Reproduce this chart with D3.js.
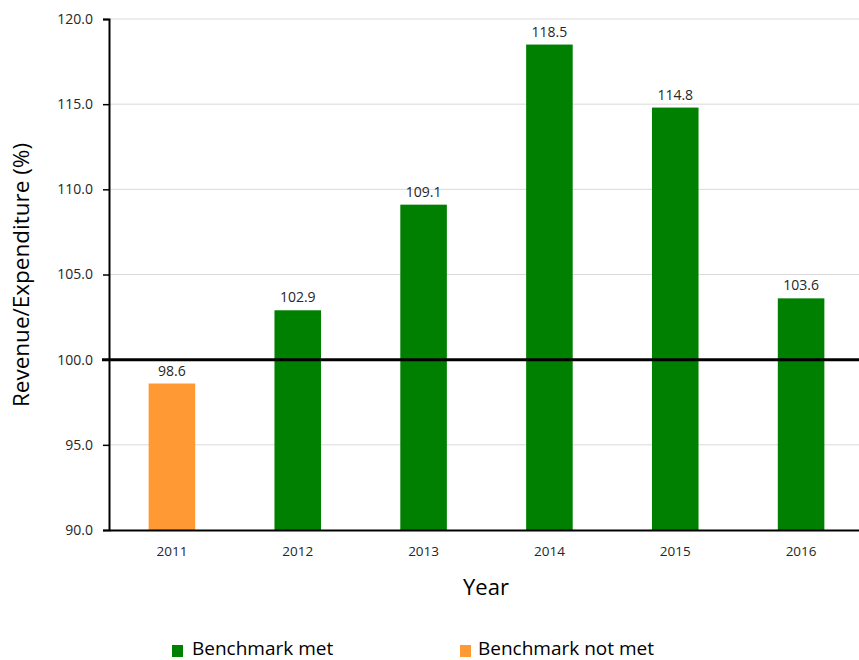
<!DOCTYPE html>
<html><head><meta charset="utf-8">
<script src="https://cdn.jsdelivr.net/npm/d3@7/dist/d3.min.js"></script>
<style>body{margin:0;background:#fff;} text{font-family:"Open Sans","Liberation Sans",sans-serif;}</style>
</head><body>
<svg id="c" width="859" height="660"></svg>
<script>
const years = ["2011","2012","2013","2014","2015","2016"];
const values = [98.6, 102.9, 109.1, 118.5, 114.8, 103.6];
const met = [false, true, true, true, true, true];
const yTicks = [90, 95, 100, 105, 110, 115, 120];
const benchmark = 100;
const legendLabels = ["Benchmark met", "Benchmark not met"];
const colors = {met: "#008000", notMet: "#FF9933"};

const svg = d3.select("#c");
const x = d3.scaleBand().domain(years).range([109, 864]).paddingInner(0.63).paddingOuter(0.315);
const y = d3.scaleLinear().domain([90, 120]).range([530, 19]);

// gridlines
svg.append("g").selectAll("line").data(yTicks.filter(t => t !== 90)).join("line")
  .attr("x1", 109).attr("x2", 859).attr("y1", d => y(d)).attr("y2", d => y(d))
  .attr("stroke", "#d9d9d9").attr("stroke-width", 1);

// bars
svg.append("g").selectAll("rect").data(years).join("rect")
  .attr("x", d => x(d)).attr("width", x.bandwidth())
  .attr("y", (d, i) => y(values[i])).attr("height", (d, i) => y(90) - y(values[i]))
  .attr("fill", (d, i) => met[i] ? colors.met : colors.notMet);

// value labels
svg.append("g").selectAll("text").data(years).join("text")
  .attr("x", d => x(d) + x.bandwidth() / 2).attr("y", (d, i) => y(values[i]) - 8)
  .attr("text-anchor", "middle").attr("font-size", 14).attr("fill", "#262626")
  .text((d, i) => values[i].toFixed(1));

// y axis
const yAxis = d3.axisLeft(y).tickValues(yTicks).tickFormat(d3.format(".1f")).tickSize(6).tickPadding(10);
const gy = svg.append("g").attr("transform", "translate(109,0)").call(yAxis);
gy.select(".domain").attr("stroke", "#000").attr("stroke-width", 2);
gy.selectAll(".tick line").attr("stroke", "#000").attr("stroke-width", 1.5);
gy.selectAll(".tick text").attr("font-size", 14).attr("fill", "#262626")
  .attr("font-family", "'Open Sans','Liberation Sans',sans-serif");

// x axis
const xAxis = d3.axisBottom(x).tickSize(0).tickPadding(16);
const gx = svg.append("g").attr("transform", "translate(0,530)").call(xAxis);
gx.select(".domain").attr("stroke", "#000").attr("stroke-width", 2);
gx.selectAll(".tick text").attr("font-size", 13.5).attr("fill", "#262626")
  .attr("font-family", "'Open Sans','Liberation Sans',sans-serif");

// benchmark line
svg.append("line").attr("x1", 102).attr("x2", 859).attr("y1", y(benchmark)).attr("y2", y(benchmark))
  .attr("stroke", "#000").attr("stroke-width", 3);

// axis titles
svg.append("text").attr("transform", "translate(29,275) rotate(-90)").attr("text-anchor", "middle")
  .attr("font-size", 22.5).attr("fill", "#000").text("Revenue/Expenditure (%)");
svg.append("text").attr("x", 486).attr("y", 595).attr("text-anchor", "middle")
  .attr("font-size", 22).attr("fill", "#000").text("Year");

// legend
const lg = svg.append("g");
const legendX = [172, 460];
const legendColors = [colors.met, colors.notMet];
legendLabels.forEach((l, i) => {
  lg.append("rect").attr("x", legendX[i]).attr("y", 645).attr("width", 11).attr("height", 12).attr("fill", legendColors[i]);
  lg.append("text").attr("x", legendX[i] + (i === 0 ? 20 : 18)).attr("y", 655).attr("font-size", 19).attr("fill", "#000").text(l);
});
</script>
</body></html>
